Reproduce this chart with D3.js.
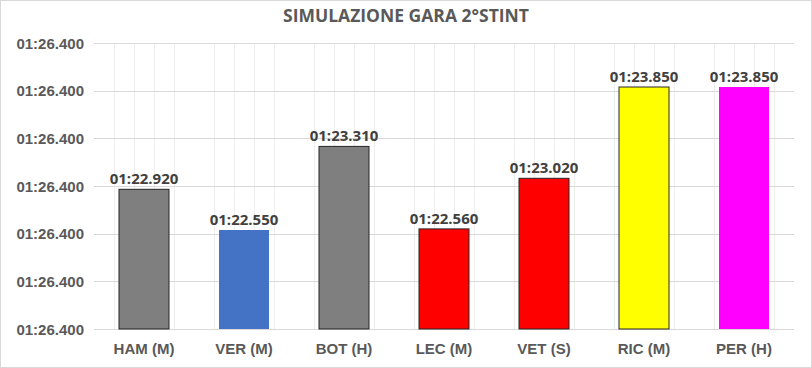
<!DOCTYPE html>
<html>
<head>
<meta charset="utf-8">
<script src="https://cdn.jsdelivr.net/npm/d3@7"></script>
<style>
  html, body { margin: 0; padding: 0; background: #fff; }
  svg { display: block; }
</style>
</head>
<body>
<svg id="chart" width="812" height="368"></svg>
<script>
// ---- data ----
const title = "SIMULAZIONE GARA 2°STINT";
const categories = ["HAM (M)", "VER (M)", "BOT (H)", "LEC (M)", "VET (S)", "RIC (M)", "PER (H)"];
const values = [82.92, 82.55, 83.31, 82.56, 83.02, 83.85, 83.85]; // seconds past 1:00
const valueLabels = ["01:22.920", "01:22.550", "01:23.310", "01:22.560", "01:23.020", "01:23.850", "01:23.850"];
const barColors = ["#7f7f7f", "#4472c4", "#7f7f7f", "#ff0000", "#ff0000", "#ffff00", "#ff00ff"];
const barBorders = [true, false, true, true, true, true, false];
const yDomain = [81.65, 84.25];
const yTickValues = [81.65, 82.0833, 82.5167, 82.95, 83.3833, 83.8167, 84.25];
const yTickLabels = ["01:26.400", "01:26.400", "01:26.400", "01:26.400", "01:26.400", "01:26.400", "01:26.400"];

// ---- layout ----
const W = 812, H = 368;
const plot = { left: 94, right: 794, top: 43, bottom: 329 };
const svg = d3.select("#chart");

// outer border
svg.append("rect").attr("x", 0.5).attr("y", 0.5).attr("width", W - 1).attr("height", H - 1)
  .attr("fill", "#fff").attr("stroke", "#d9d9d9");

const x = d3.scaleBand().domain(categories).range([plot.left, plot.right]).paddingInner(0.5).paddingOuter(0.25);
const xOuter = d3.scaleBand().domain(categories).range([plot.left, plot.right]);
const y = d3.scaleLinear().domain(yDomain).range([plot.bottom, plot.top]);

// minor vertical gridlines (5 per category)
const minor = [];
categories.forEach(c => { for (let i = 1; i < 5; i++) minor.push(xOuter(c) + xOuter.bandwidth() * i / 5); });
svg.append("g").selectAll("line").data(minor).join("line")
  .attr("x1", d => Math.round(d) + 0.5).attr("x2", d => Math.round(d) + 0.5)
  .attr("y1", plot.top).attr("y2", plot.bottom)
  .attr("stroke", "#eeeeee").attr("stroke-width", 1);

// horizontal gridlines
svg.append("g").selectAll("line").data(yTickValues).join("line")
  .attr("x1", plot.left).attr("x2", plot.right)
  .attr("y1", d => Math.round(y(d)) + 0.5).attr("y2", d => Math.round(y(d)) + 0.5)
  .attr("stroke", "#d9d9d9").attr("stroke-width", 1);

// y axis labels
const yAxis = d3.axisLeft(y).tickValues(yTickValues).tickSize(0).tickPadding(0)
  .tickFormat((d, i) => yTickLabels[i]);
const gy = svg.append("g").attr("transform", `translate(${84},0)`).call(yAxis);
gy.select(".domain").remove();
gy.selectAll("text").attr("font-family", "'Liberation Sans', Arial, sans-serif")
  .attr("font-size", 15).attr("font-weight", "bold").attr("fill", "#595959").attr("dy", "0.35em");

// bars
svg.append("g").selectAll("rect").data(categories).join("rect")
  .attr("x", d => x(d)).attr("width", x.bandwidth())
  .attr("y", (d, i) => y(values[i])).attr("height", (d, i) => plot.bottom - y(values[i]))
  .attr("fill", (d, i) => barColors[i])
  .attr("stroke", (d, i) => barBorders[i] ? "#262626" : "none")
  .attr("stroke-width", 1);

// value labels
svg.append("g").selectAll("text").data(categories).join("text")
  .attr("x", d => x(d) + x.bandwidth() / 2)
  .attr("y", (d, i) => y(values[i]) - 5)
  .attr("text-anchor", "middle")
  .attr("font-family", "'Open Sans', sans-serif").attr("font-weight", "bold").attr("font-size", 15)
  .attr("fill", "#404040")
  .text((d, i) => valueLabels[i]);

// x axis labels
const xAxis = d3.axisBottom(x).tickSize(0).tickPadding(0);
const gx = svg.append("g").attr("transform", `translate(0,${plot.bottom})`).call(xAxis);
gx.select(".domain").remove();
gx.selectAll("text").attr("font-family", "'Liberation Sans', Arial, sans-serif")
  .attr("font-size", 15).attr("font-weight", "bold").attr("fill", "#595959")
  .attr("dy", null).attr("y", 25);

// title
svg.append("text").attr("x", 406).attr("y", 22).attr("text-anchor", "middle")
  .attr("font-family", "'Open Sans', sans-serif").attr("font-weight", "bold").attr("font-size", 17.5)
  .attr("fill", "#595959").text(title);
</script>
</body>
</html>
